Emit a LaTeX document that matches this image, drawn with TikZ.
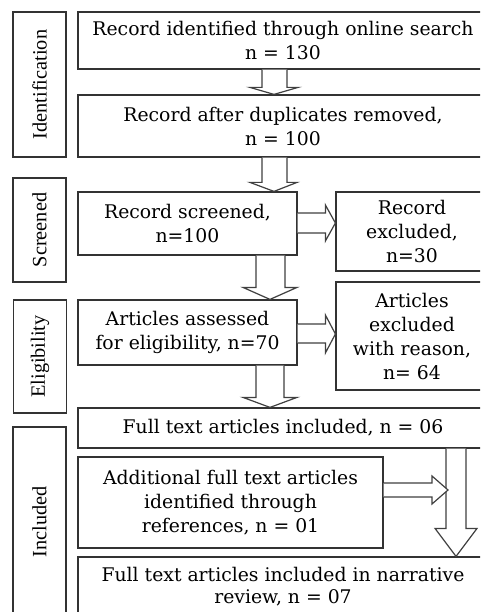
\documentclass[tikz,border=0pt]{standalone}
\usepackage{fontspec}
\setmainfont{DejaVu Serif}
\newfontfamily\sidefont{Liberation Serif}
\usetikzlibrary{calc}
\tikzset{
  box/.style={draw=black!80, line width=1.2pt, inner sep=0pt, align=center,
    font=\fontsize{18.8}{24}\selectfont, text=black},
  side/.style={draw=black!80, line width=1.2pt, inner sep=0pt, rotate=90,
    font=\sidefont\fontsize{20.3}{22}\selectfont, minimum height=53pt},
  blk/.style={draw=black!75, line width=1.2pt, line join=miter, fill=white}
}
% down block arrow: #1 src anchor, #2 dst anchor, #3/#4 shaft x, #5/#6 head x, #7 tip x, #8 head length
\newcommand\blockdown[8]{%
  \draw[blk] (#3,0 |- #1) -- ($(#3,0 |- #2)+(0,-#8)$) -- ($(#5,0 |- #2)+(0,-#8)$)
    -- (#7,0 |- #2) -- ($(#6,0 |- #2)+(0,-#8)$) -- ($(#4,0 |- #2)+(0,-#8)$) -- (#4,0 |- #1);}
% right block arrow: #1 src anchor, #2 dst anchor, #3/#4 shaft y, #5/#6 head y, #7 tip y, #8 head length
\newcommand\blockright[8]{%
  \draw[blk] (#1 |- 0,#3) -- ($(#2 |- 0,#3)+(-#8,0)$) -- ($(#2 |- 0,#5)+(-#8,0)$)
    -- (#2 |- 0,#7) -- ($(#2 |- 0,#6)+(-#8,0)$) -- ($(#2 |- 0,#4)+(-#8,0)$) -- (#1 |- 0,#4);}
\begin{document}
\begin{tikzpicture}[x=1pt, y=-1pt]
\path[use as bounding box, clip] (0,0) rectangle (480,612);
\fill[white] (0,0) rectangle (480,612);

% side labels
\node[side, minimum width=145pt] (sid) at (39.5,84.5) {Identification};
\node[side, minimum width=104pt] (sscr) at (39.5,230) {Screened};
\node[side, minimum width=113pt] (selig) at (40,356.5) {Eligibility};
\node[side, minimum width=190pt] (sinc) at (39.5,522) {Included};

% main boxes
\node[box, minimum width=410pt, minimum height=57pt] (b1) at (283,40.5) {Record identified through online search\\ n = 130};
\node[box, minimum width=410pt, minimum height=62pt] (b2) at (283,126) {Record after duplicates removed,\\ n = 100};
\node[box, minimum width=219pt, minimum height=63pt] (b3) at (187.5,223.5) {Record screened,\\ n=100};
\node[box, minimum width=152pt, minimum height=79pt] (e1) at (412,231.5) {Record\\ excluded,\\ n=30};
\node[box, minimum width=219pt, minimum height=65pt] (b4) at (187.5,332.5) {Articles assessed\\ for eligibility, n=70};
\node[box, minimum width=152pt, minimum height=108pt] (e2) at (412,336) {Articles\\ excluded\\ with reason,\\ n= 64};
\node[box, minimum width=410pt, minimum height=40pt] (b5) at (283,428) {Full text articles included, n = 06};
\node[box, minimum width=305pt, minimum height=91pt] (b6) at (230.5,502.5) {Additional full text articles\\ identified through\\ references, n = 01};
\node[box, minimum width=410pt, minimum height=60pt, font=\fontsize{18.8}{22}\selectfont] (b7) at (283,587) {Full text articles included in narrative\\ review, n = 07};

% block arrows
\blockdown{b1.south}{b2.north}{262}{287}{250}{298}{274}{7}
\blockdown{b2.south}{b3.north}{262}{287}{250}{297}{274}{9}
\blockdown{b3.south}{b4.north}{256}{285}{243}{297}{270}{12}
\blockdown{b4.south}{b5.north}{256}{284}{243}{297}{270}{10}
\blockdown{b5.south}{b7.north}{446}{466}{435}{477}{456}{28}
\blockright{b3.east}{e1.west}{213}{233}{205}{241}{223}{10}
\blockright{b4.east}{e2.west}{324}{343}{315}{353}{334}{10}
\coordinate (bigL) at (448,490);
\blockright{b6.east}{bigL}{483}{497}{476}{504}{490}{16}
\end{tikzpicture}
\end{document}
